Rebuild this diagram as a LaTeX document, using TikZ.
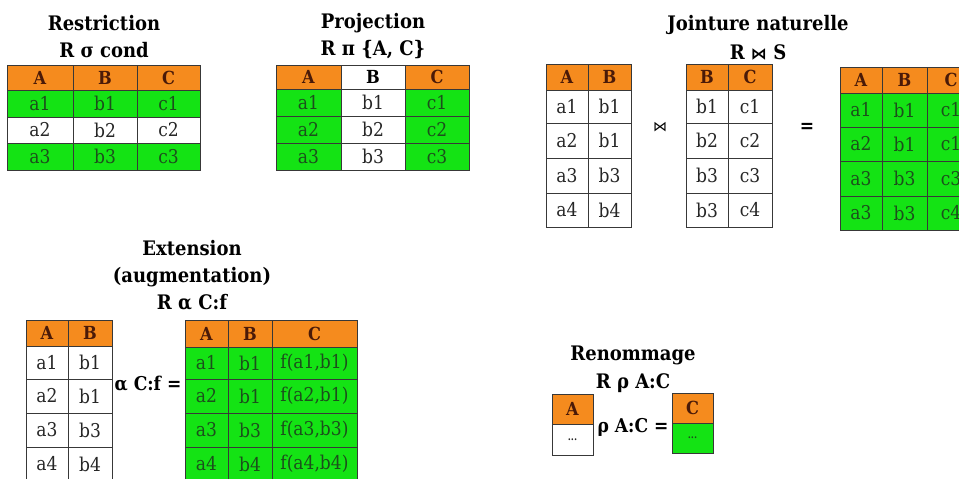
\documentclass[tikz,border=0pt]{standalone}
\usepackage{fontspec}
\setmainfont[FakeStretch=0.9]{DejaVu Serif}
\newfontfamily\symfont{DejaVu Sans}
\definecolor{hdorange}{HTML}{F58B1E}
\definecolor{cellgreen}{HTML}{14E314}
\definecolor{hdtext}{HTML}{4A1A08}
\definecolor{grtext}{HTML}{1C4F1C}
\definecolor{gridline}{HTML}{383838}
\tikzset{
  cellbase/.style={draw=gridline, line width=0.9pt, inner sep=0pt, font=\fontsize{19}{21}\selectfont},
  hd/.style={cellbase, fill=hdorange, text=hdtext, font=\fontsize{18}{20}\selectfont\bfseries},
  hdw/.style={cellbase, fill=white, text=black, font=\fontsize{18}{20}\selectfont\bfseries},
  gr/.style={cellbase, fill=cellgreen, text=grtext},
  wh/.style={cellbase, fill=white, text=black!85},
  ttl/.style={font=\fontsize{20}{22}\selectfont\bfseries, inner sep=0pt},
  op/.style={font=\fontsize{19}{21}\selectfont\bfseries, inner sep=0pt},
}
% \tcell{name}{x1}{y1}{x2}{y2}{style}{text}
\newcommand\tcell[7]{%
  \node[#6, minimum width={(#4-#2)*1pt}, minimum height={(#5-#3)*1pt}]
    (#1) at ({(#2+#4)/2},{(#3+#5)/2}) {#7};}
\begin{document}
\begin{tikzpicture}[x=1pt,y=-1pt]
\useasboundingbox (0,0) rectangle (959,479);
\clip (0,0) rectangle (959,479);

% ---------- Restriction ----------
\node[ttl] (t1) at (104,23) {Restriction};
\node[ttl] (t1b) at (104,50) {R σ cond};
\tcell{rA}{7}{65}{73}{90}{hd}{A}
\tcell{rB}{73}{65}{137}{90}{hd}{B}
\tcell{rC}{137}{65}{200}{90}{hd}{C}
\tcell{r11}{7}{90}{73}{117}{gr}{a1}
\tcell{r12}{73}{90}{137}{117}{gr}{b1}
\tcell{r13}{137}{90}{200}{117}{gr}{c1}
\tcell{r21}{7}{117}{73}{143}{wh}{a2}
\tcell{r22}{73}{117}{137}{143}{wh}{b2}
\tcell{r23}{137}{117}{200}{143}{wh}{c2}
\tcell{r31}{7}{143}{73}{170}{gr}{a3}
\tcell{r32}{73}{143}{137}{170}{gr}{b3}
\tcell{r33}{137}{143}{200}{170}{gr}{c3}

% ---------- Projection ----------
\node[ttl] (t2) at (373,23) {Projection};
\node[ttl] (t2b) at (373,50) {R π \{A, C\}};
\tcell{pA}{276}{65}{341}{89}{hd}{A}
\tcell{pB}{341}{65}{405}{89}{hdw}{B}
\tcell{pC}{405}{65}{469}{89}{hd}{C}
\tcell{p11}{276}{89}{341}{116}{gr}{a1}
\tcell{p12}{341}{89}{405}{116}{wh}{b1}
\tcell{p13}{405}{89}{469}{116}{gr}{c1}
\tcell{p21}{276}{116}{341}{143}{gr}{a2}
\tcell{p22}{341}{116}{405}{143}{wh}{b2}
\tcell{p23}{405}{116}{469}{143}{gr}{c2}
\tcell{p31}{276}{143}{341}{170}{gr}{a3}
\tcell{p32}{341}{143}{405}{170}{wh}{b3}
\tcell{p33}{405}{143}{469}{170}{gr}{c3}

% ---------- Jointure naturelle ----------
\node[ttl] (t3) at (758,25) {Jointure naturelle};
\node[ttl] (t3b) at (758,52) {R {\symfont\fontsize{16}{18}\selectfont ⋈} S};
% R
\tcell{jlA}{546}{64}{588}{90}{hd}{A}
\tcell{jlB}{588}{64}{631}{90}{hd}{B}
\tcell{jl11}{546}{90}{588}{123}{wh}{a1}
\tcell{jl12}{588}{90}{631}{123}{wh}{b1}
\tcell{jl21}{546}{123}{588}{158}{wh}{a2}
\tcell{jl22}{588}{123}{631}{158}{wh}{b1}
\tcell{jl31}{546}{158}{588}{193}{wh}{a3}
\tcell{jl32}{588}{158}{631}{193}{wh}{b3}
\tcell{jl41}{546}{193}{588}{227}{wh}{a4}
\tcell{jl42}{588}{193}{631}{227}{wh}{b4}
\node[inner sep=0pt, font=\symfont\fontsize{14}{16}\selectfont] (jop) at (660,127) {⋈};
% S
\tcell{jmB}{686}{64}{728}{90}{hd}{B}
\tcell{jmC}{728}{64}{772}{90}{hd}{C}
\tcell{jm11}{686}{90}{728}{123}{wh}{b1}
\tcell{jm12}{728}{90}{772}{123}{wh}{c1}
\tcell{jm21}{686}{123}{728}{158}{wh}{b2}
\tcell{jm22}{728}{123}{772}{158}{wh}{c2}
\tcell{jm31}{686}{158}{728}{193}{wh}{b3}
\tcell{jm32}{728}{158}{772}{193}{wh}{c3}
\tcell{jm41}{686}{193}{728}{227}{wh}{b3}
\tcell{jm42}{728}{193}{772}{227}{wh}{c4}
\node[op] (jeq) at (807,128) {=};
% result
\tcell{jrA}{840}{67}{882}{93}{hd}{A}
\tcell{jrB}{882}{67}{927}{93}{hd}{B}
\tcell{jrC}{927}{67}{975}{93}{hd}{C}
\tcell{jr11}{840}{93}{882}{127}{gr}{a1}
\tcell{jr12}{882}{93}{927}{127}{gr}{b1}
\tcell{jr13}{927}{93}{975}{127}{gr}{c1}
\tcell{jr21}{840}{127}{882}{161}{gr}{a2}
\tcell{jr22}{882}{127}{927}{161}{gr}{b1}
\tcell{jr23}{927}{127}{975}{161}{gr}{c1}
\tcell{jr31}{840}{161}{882}{196}{gr}{a3}
\tcell{jr32}{882}{161}{927}{196}{gr}{b3}
\tcell{jr33}{927}{161}{975}{196}{gr}{c3}
\tcell{jr41}{840}{196}{882}{230}{gr}{a3}
\tcell{jr42}{882}{196}{927}{230}{gr}{b3}
\tcell{jr43}{927}{196}{975}{230}{gr}{c4}

% ---------- Extension ----------
\node[ttl] (t4) at (192,248) {Extension};
\node[ttl] (t4b) at (192,277) {(augmentation)};
\node[ttl] (t4c) at (192,302) {R α C:f};
\tcell{elA}{26}{320}{68}{346}{hd}{A}
\tcell{elB}{68}{320}{112}{346}{hd}{B}
\tcell{el11}{26}{346}{68}{379}{wh}{a1}
\tcell{el12}{68}{346}{112}{379}{wh}{b1}
\tcell{el21}{26}{379}{68}{413}{wh}{a2}
\tcell{el22}{68}{379}{112}{413}{wh}{b1}
\tcell{el31}{26}{413}{68}{447}{wh}{a3}
\tcell{el32}{68}{413}{112}{447}{wh}{b3}
\tcell{el41}{26}{447}{68}{481}{wh}{a4}
\tcell{el42}{68}{447}{112}{481}{wh}{b4}
\node[op] (eop) at (148,384) {α C:f =};
\tcell{erA}{185}{320}{228}{347}{hd}{A}
\tcell{erB}{228}{320}{272}{347}{hd}{B}
\tcell{erC}{272}{320}{357}{347}{hd}{C}
\tcell{er11}{185}{347}{228}{379}{gr}{a1}
\tcell{er12}{228}{347}{272}{379}{gr}{b1}
\tcell{er13}{272}{347}{357}{379}{gr}{f(a1,b1)}
\tcell{er21}{185}{379}{228}{413}{gr}{a2}
\tcell{er22}{228}{379}{272}{413}{gr}{b1}
\tcell{er23}{272}{379}{357}{413}{gr}{f(a2,b1)}
\tcell{er31}{185}{413}{228}{447}{gr}{a3}
\tcell{er32}{228}{413}{272}{447}{gr}{b3}
\tcell{er33}{272}{413}{357}{447}{gr}{f(a3,b3)}
\tcell{er41}{185}{447}{228}{481}{gr}{a4}
\tcell{er42}{228}{447}{272}{481}{gr}{b4}
\tcell{er43}{272}{447}{357}{481}{gr}{f(a4,b4)}

% ---------- Renommage ----------
\node[ttl] (t5) at (633,355) {Renommage};
\node[ttl] (t5b) at (633,383) {R ρ A:C};
\tcell{nlA}{552}{394}{593}{424}{hd}{A}
\tcell{nl1}{552}{424}{593}{455}{wh}{\fontsize{10}{11}\selectfont\bfseries ...}
\node[op] (nop) at (633,427) {ρ A:C =};
\tcell{nrC}{672}{393}{713}{423}{hd}{C}
\tcell{nr1}{672}{423}{713}{453}{gr}{\fontsize{10}{11}\selectfont\bfseries ...}
\end{tikzpicture}
\end{document}
